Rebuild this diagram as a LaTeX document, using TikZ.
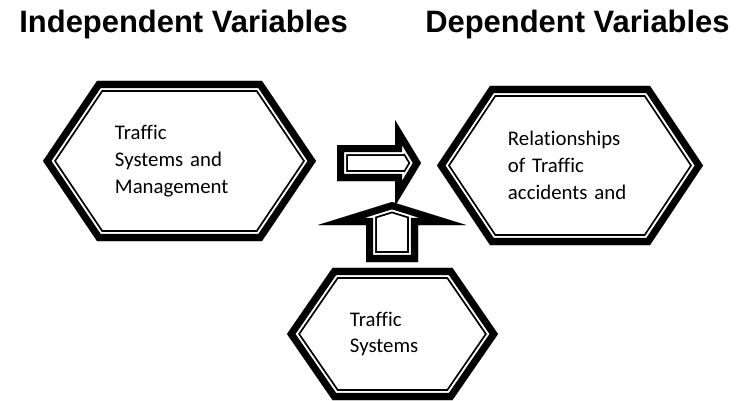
\documentclass[tikz,border=0pt]{standalone}
\usepackage{fontspec}
\setmainfont{Carlito}[Ligatures=NoCommon]
\setsansfont{Liberation Sans}
\usepackage{tikz}
\usetikzlibrary{positioning,calc}

\tikzset{%
  hexbox/.style  = {rectangle, draw=none, inner sep=0pt, outer sep=0pt,
    align=left, font=\fontsize{14.8}{19}\selectfont},
  heading/.style = {anchor=base west, inner sep=0pt,
    font=\sffamily\bfseries\fontsize{22}{26}\selectfont}
}

% thick-thin border, kept inside the outline
\newcommand{\ttshape}[1]{%
  \begin{scope}
    \clip #1;
    \draw[line width=15.4pt] #1;
    \draw[white, line width=12.8pt] #1;
    \draw[line width=10pt] #1;
  \end{scope}}

% hexagon round a node, #2 = how far the tips stick out
\newcommand{\hexpath}[2]{(#1.north west) -- (#1.north east) -- ($(#1.east)+(#2,0)$)
  -- (#1.south east) -- (#1.south west) -- ($(#1.west)-(#2,0)$) -- cycle}

\begin{document}
\begin{tikzpicture}[x=0.025cm, y=-0.025cm]
  \useasboundingbox (0,0) rectangle (740,400);

  \draw node at (348,33) [heading, anchor=base east] (indep) {Independent Variables};
  \draw node at (425,33) [heading] (dep) {Dependent Variables};

  \draw node at (179.5,161) [hexbox, minimum width=4.125cm, minimum height=4cm,
    text width=3.225cm] (mgmt) {Traffic\\Systems and\\Management};
  \draw node at (570,165.5) [hexbox, minimum width=4cm, minimum height=3.975cm,
    text width=3.1cm] (accid) {Relationships\\of Traffic\\accidents and};
  \draw node at (392.5,334) [hexbox, minimum width=3cm, minimum height=3.3cm,
    text width=2.125cm] (sys) {Traffic\\Systems};

  \ttshape{\hexpath{mgmt}{54}}
  \ttshape{\hexpath{accid}{53}}
  \ttshape{\hexpath{sys}{45.5}}

  % block arrows
  \ttshape{(337,145) -- (395,145) -- (395,120) -- (421,163) -- (395,206)
    -- (395,181) -- (337,181) -- cycle}
  \ttshape{(366,262) -- (366,225) -- (318,225) -- (392,202) -- (466,225)
    -- (418,225) -- (418,262) -- cycle}

\end{tikzpicture}
\end{document}
